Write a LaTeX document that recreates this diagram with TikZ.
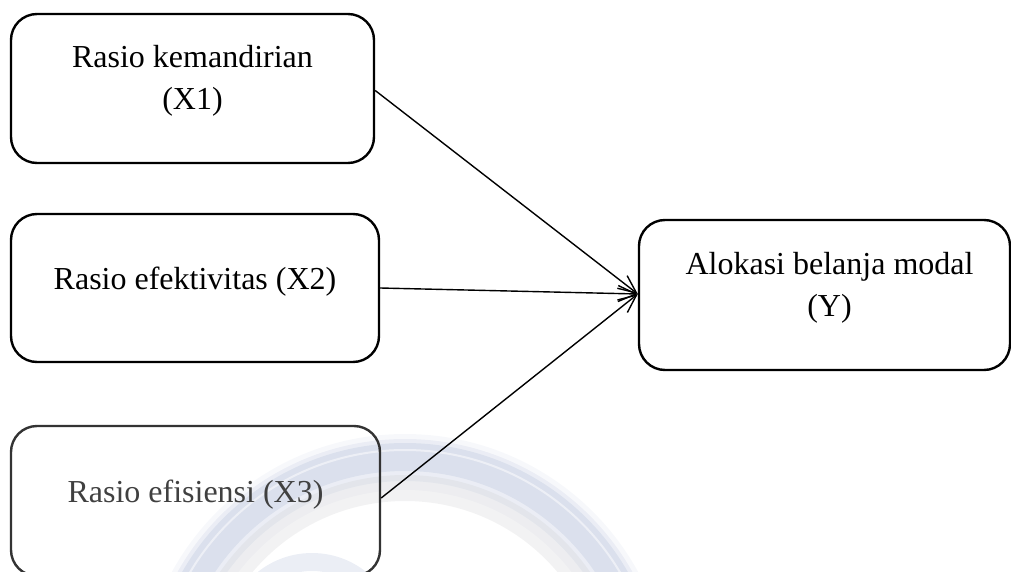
\documentclass[tikz,border=0pt]{standalone}
\usepackage{fontspec}
\setmainfont{Liberation Serif}
\usetikzlibrary{arrows.meta}
\definecolor{wmblue}{RGB}{190,199,222}
\definecolor{wmgray}{RGB}{205,205,208}
\tikzset{
  box/.style={draw, line width=2.4pt, rounded corners=26pt, inner sep=0pt},
  txt/.style={font=\fontsize{32}{42}\selectfont, align=center, inner sep=0pt},
  link/.style={line width=1.4pt, -{Straight Barb[length=18pt,width=16pt,line width=1.4pt]}},
  wm/.style={draw=wmblue, line cap=butt}
}
\begin{document}
\begin{tikzpicture}[x=1pt,y=-1pt]
\useasboundingbox (0,0) rectangle (1011,572);
\clip (0,0) rectangle (1011,572);
% watermark
\begin{scope}
  \clip (0,426) rectangle (1011,572);
  \draw[wm, line width=56pt, opacity=0.12] (405,700) circle (238);
  \draw[wm, line width=42pt, opacity=0.22] (405,700) circle (240);
  \draw[wm, line width=28pt, opacity=0.35] (405,700) circle (243);
  \draw[draw=white, line width=2pt, opacity=0.5] (405,700) circle (250);
  \draw[draw=wmgray, line width=26pt, opacity=0.25] (405,700) circle (212);
  \draw[wm, line width=18pt, opacity=0.3] (312,640) circle (78);
\end{scope}
% boxes
\node[box, minimum width=363pt, minimum height=149pt] (b1) at (192.5,88.5) {};
\node[box, minimum width=368pt, minimum height=148pt] (b2) at (195,288) {};
\node[box, draw=black!80, minimum width=369pt, minimum height=150pt] (b3) at (195.5,501) {};
\node[box, minimum width=371pt, minimum height=150pt] (by) at (824.5,295) {};
% texts
\node[txt] (t1) at ([yshift=8pt]b1.center) {Rasio kemandirian\\(X1)};
\node[txt] (t2) at ([yshift=6pt]b2.center) {Rasio efektivitas (X2)};
\node[txt, text=black!75] (t3) at ([yshift=6pt]b3.center) {Rasio efisiensi (X3)};
\node[txt] (ty) at ([xshift=5pt,yshift=7pt]by.center) {Alokasi belanja modal\\(Y)};
% connectors
\draw[link] ([yshift=-2pt]b1.east) -- ([yshift=1pt]by.west);
\draw[link] (b2.east) -- ([yshift=1pt]by.west);
\draw[link] ([yshift=3pt]b3.east) -- ([yshift=1pt]by.west);
\end{tikzpicture}
\end{document}
